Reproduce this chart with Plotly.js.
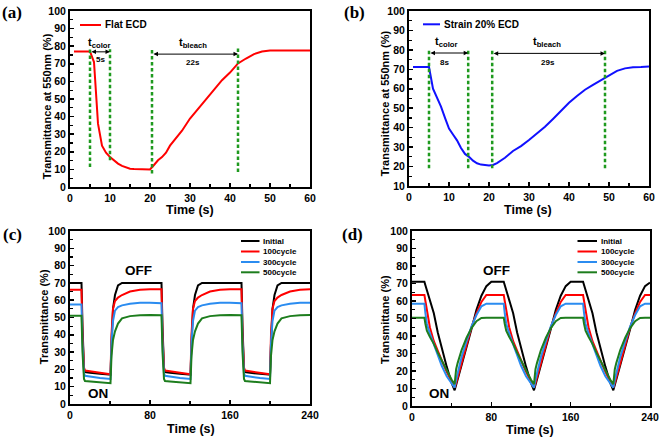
<!DOCTYPE html>
<html>
<head>
<meta charset="utf-8">
<script src="https://cdn.plot.ly/plotly-3.0.1.min.js"></script>
<style>
  html, body { margin: 0; padding: 0; background: #fff; }
  #graph { width: 660px; height: 438px; }
</style>
</head>
<body>
<div id="graph"></div>
<script>
// (a) flat device, single colour/bleach step
var aTime  = [1, 5, 6, 7, 8, 9, 10, 11, 12, 13, 14, 15, 16, 18, 20, 21, 22, 23, 24, 25, 26, 27, 28, 30, 32, 34, 36, 38, 40, 42, 44, 46, 48, 50, 55, 60];
var aTrans = [77, 77, 71, 36, 23.5, 19.5, 17, 15, 13.3, 12, 11, 10.4, 10.2, 10, 10, 12.5, 15.2, 17, 19.5, 23.5, 26.5, 29.4, 32, 38.9, 44.5, 50, 55.5, 60.7, 65, 70.2, 73, 75.5, 77, 77.5, 77.5, 77.5];
var aMarks = [5, 10, 20.5, 42];
var aMarkLow = [11.4, 15.2, 7.6, 8.5];
var aMarkTop = [78.2, 78.2, 78.2, 79.7];

// (b) 20% strained device
var bTime  = [1, 5, 6, 7, 8, 9, 10, 11, 12, 13, 14, 15, 16, 17, 18, 20, 21, 22, 24, 26, 28, 30, 32, 34, 36, 38, 40, 42, 44, 46, 48, 50, 52, 54, 56, 58, 60];
var bTrans = [71.2, 71.2, 60, 55.5, 50.8, 45, 39.5, 36.5, 33.5, 29.5, 26.5, 25, 23, 21.7, 21, 20.5, 20.8, 21.8, 24.5, 28, 30.5, 33.7, 37, 40.5, 44.5, 48.8, 52.8, 56.3, 59.5, 62, 64.5, 66.6, 69.2, 70.5, 71.1, 71.2, 71.4];
var bMarks = [5, 14.8, 20.8, 49];
var bMarkLow = [19.1, 19.1, 19.1, 19.1];
var bMarkTop = [79.9, 79.9, 79.9, 79.9];

// (c) cycling, flat device
var cycleNames = ["Initial", "100cycle", "300cycle", "500cycle"];
var cycleColors = ["#000000", "#ff0000", "#2b8cf0", "#1d7d1d"];
var cTime = [0, 11.5, 12.5, 14, 15, 20, 30, 40.5, 41.5, 43, 45, 48, 52, 60, 70, 80,
             91.5, 92.5, 94, 95, 100, 110, 120.5, 121.5, 123, 125, 128, 132, 140, 150, 160,
             171.5, 172.5, 174, 175, 180, 190, 200, 201, 202.5, 204.5, 207.5, 211.5, 220, 230, 240];
var cInitial = [70, 70, 45, 20, 18.5, 18, 17.5, 17, 35, 55, 63, 68.5, 70, 70, 70, 70,
                70, 45, 20, 18.5, 18, 17.5, 17, 35, 55, 63, 68.5, 70, 70, 70, 70,
                70, 45, 20, 18.5, 18, 17.5, 17, 35, 55, 63, 68.5, 70, 70, 70, 70];
var c100 = [66, 66, 40, 21, 19.3, 18.8, 18, 17.2, 40, 55, 59.5, 61.5, 63, 65, 66, 66.3,
            66.3, 40, 21, 19.3, 18.8, 18, 17.2, 40, 55, 59.5, 61.5, 63, 65, 66, 66.3,
            66.3, 40, 21, 19.3, 18.8, 18, 17.2, 40, 55, 59.5, 61.5, 63, 65, 66, 66.3];
var c300 = [57.5, 57.5, 35, 17.5, 16.3, 15.8, 15, 14.5, 35, 48, 54, 56, 57, 58, 58.5, 58.5,
            58.3, 35, 17.5, 16.3, 15.8, 15, 14.5, 35, 48, 54, 56, 57, 58, 58.5, 58.5,
            58.3, 35, 17.5, 16.3, 15.8, 15, 14.5, 35, 48, 54, 56, 57, 58, 58.5, 58.5];
var c500 = [51, 51, 30, 14.5, 13.3, 13, 12.5, 12, 28, 37, 42, 46.5, 49.5, 50.8, 51.3, 51.5,
            51.3, 30, 14.5, 13.3, 13, 12.5, 12, 28, 37, 42, 46.5, 49.5, 50.8, 51.3, 51.5,
            51.3, 30, 14.5, 13.3, 13, 12.5, 12, 28, 37, 42, 46.5, 49.5, 50.8, 51.3, 51.5];

// (d) cycling, strained device
var dTime = [0, 12.5, 13.5, 15, 18, 22, 26, 30, 35, 40, 43, 44.5, 46, 50, 55, 60, 65, 70, 75, 80,
             92.5, 93.5, 95, 98, 102, 106, 110, 115, 120, 123, 124.5, 126, 130, 135, 140, 145, 150, 155, 160,
             172.5, 173.5, 175, 178, 182, 186, 190, 195, 200, 203, 204.5, 206, 210, 215, 220, 225, 230, 235, 240];
var dInitial = [71, 71, 69, 66, 61, 53, 42, 33, 22.5, 13, 9, 12, 15, 24, 34, 44, 55, 63, 68.5, 71,
                71, 69, 66, 61, 53, 42, 33, 22.5, 13, 9, 12, 15, 24, 34, 44, 55, 63, 68.5, 71,
                71, 69, 66, 61, 53, 42, 33, 22.5, 13, 9, 12, 15, 24, 34, 44, 55, 63, 68.5, 70.5];
var d100 = [63.5, 63.5, 60, 55, 45, 37, 31, 26, 19.5, 13.5, 10.5, 13, 16, 25, 35, 45, 53, 59.5, 63.5, 63.5,
            63.5, 60, 55, 45, 37, 31, 26, 19.5, 13.5, 10.5, 13, 16, 25, 35, 45, 53, 59.5, 63.5, 63.5,
            63.5, 60, 55, 45, 37, 31, 26, 19.5, 13.5, 10.5, 13, 16, 25, 35, 45, 53, 59.5, 63.5, 63.5];
var d300 = [58.5, 58.5, 53, 47, 41.5, 35, 29, 23, 17, 12.5, 10.5, 15, 19, 28, 37, 45.5, 52, 57, 58.5, 58.5,
            58.5, 53, 47, 41.5, 35, 29, 23, 17, 12.5, 10.5, 15, 19, 28, 37, 45.5, 52, 57, 58.5, 58.5,
            58.5, 53, 47, 41.5, 35, 29, 23, 17, 12.5, 10.5, 15, 19, 28, 37, 45.5, 52, 57, 58.5, 58.5];
var d500 = [50.5, 50.5, 47, 43, 39.5, 35.5, 30.5, 26, 20.5, 15, 12.5, 21, 24.5, 32, 39, 44.5, 48.5, 50.3, 50.5, 50.5,
            50.5, 47, 43, 39.5, 35.5, 30.5, 26, 20.5, 15, 12.5, 21, 24.5, 32, 39, 44.5, 48.5, 50.3, 50.5, 50.5,
            50.5, 47, 43, 39.5, 35.5, 30.5, 26, 20.5, 15, 12.5, 21, 24.5, 32, 39, 44.5, 48.5, 50.3, 50.5, 50.5];

var W = 660, H = 438;
var FONT = "Liberation Sans, Arial, sans-serif";
function px(x) { return x / W; }
function py(y) { return 1 - y / H; }

function lineTrace(x, y, color, xa, ya) {
    return {
        x: x, y: y, mode: "lines", type: "scatter",
        line: { color: color, width: 2 },
        xaxis: xa, yaxis: ya, showlegend: false, hoverinfo: "skip"
    };
}

function axis(domain, range, dtick, minor, anchor) {
    return {
        domain: domain, range: range, dtick: dtick, tick0: 0,
        anchor: anchor,
        showgrid: false, zeroline: false,
        showline: true, linewidth: 2, linecolor: "#000", mirror: true,
        ticks: "inside", ticklen: 4, tickwidth: 1.5, tickcolor: "#000",
        minor: { dtick: minor, ticks: "inside", ticklen: 3, tickwidth: 1.2, tickcolor: "#000", showgrid: false },
        tickfont: { family: FONT, size: 10.5, color: "#000", weight: "bold" }
    };
}

var data = [];
data.push(lineTrace(aTime, aTrans, "#ff0000", "x", "y"));
data.push(lineTrace(bTime, bTrans, "#1010ff", "x2", "y2"));
var cSeries = [cInitial, c100, c300, c500];
var dSeries = [dInitial, d100, d300, d500];
for (var i = 0; i < 4; i++) data.push(lineTrace(cTime, cSeries[i], cycleColors[i], "x3", "y3"));
for (var i = 0; i < 4; i++) data.push(lineTrace(dTime, dSeries[i], cycleColors[i], "x4", "y4"));

var shapes = [];
var annotations = [];
var DASH = { color: "#1f9a1f", width: 2.5, dash: "3.5px,2.5px" };
function marks(xs, lo, hi, xr, yr) {
    for (var i = 0; i < xs.length; i++) {
        shapes.push({ type: "line", xref: xr, yref: yr, x0: xs[i], x1: xs[i], y0: lo[i], y1: hi[i], line: DASH });
    }
}
marks(aMarks, aMarkLow, aMarkTop, "x", "y");
marks(bMarks, bMarkLow, bMarkTop, "x2", "y2");

function span(x0, x1, y, xr, yr) {
    annotations.push({ x: x1, y: y, ax: x0, ay: y, xref: xr, yref: yr, axref: xr, ayref: yr,
        text: "", showarrow: true, arrowside: "end+start", arrowhead: 2, arrowsize: 0.9, arrowwidth: 1, arrowcolor: "#000" });
}
function label(text, x, y, xr, yr, size, weight, family, angle) {
    annotations.push({ x: x, y: y, xref: xr, yref: yr, text: text, showarrow: false, textangle: angle || 0,
        xanchor: "center", yanchor: "middle",
        font: { family: family || FONT, size: size, color: "#000", weight: weight || "bold" } });
}

// (a) timing annotations
span(aMarks[0], aMarks[1], 76.8, "x", "y");
span(aMarks[2], aMarks[3], 75.5, "x", "y");
label("t<sub>color</sub>", 7.2, 82, "x", "y", 11);
label("5s", 7.6, 72.5, "x", "y", 8);
label("t<sub>bleach</sub>", 30.7, 82, "x", "y", 11);
label("22s", 30.7, 70.8, "x", "y", 8);
// (b) timing annotations
span(bMarks[0], bMarks[1], 78.4, "x2", "y2");
span(bMarks[2], bMarks[3], 78.2, "x2", "y2");
label("t<sub>color</sub>", 9.3, 84, "x2", "y2", 11);
label("8s", 8.8, 73.6, "x2", "y2", 8);
label("t<sub>bleach</sub>", 34.4, 84, "x2", "y2", 11);
label("29s", 34.8, 73.6, "x2", "y2", 8);
// OFF / ON
label("OFF", 68, 77, "x3", "y3", 13.5);
label("ON", 27.7, 6, "x3", "y3", 13.5);
label("OFF", 85.6, 77.3, "x4", "y4", 13.5);
label("ON", 26.8, 7.3, "x4", "y4", 13.5);

// axis titles
label("Time (s)", px(190), py(209.5), "paper", "paper", 12.5);
label("Time (s)", px(528), py(209.5), "paper", "paper", 12.5);
label("Time (s)", px(191), py(429), "paper", "paper", 12.5);
label("Time (s)", px(530), py(430), "paper", "paper", 12.5);
label("Transmittance at 550nm (%)", px(46.5), py(106.7), "paper", "paper", 11, "bold", FONT, -90);
label("Transmittance at 550nm (%)", px(385), py(103.3), "paper", "paper", 11, "bold", FONT, -90);
label("Transmittance (%)", px(43.5), py(316.7), "paper", "paper", 11, "bold", FONT, -90);
label("Transmittane (%)", px(385), py(320), "paper", "paper", 11, "bold", FONT, -90);

// panel letters
var SERIF = "Liberation Serif, Times New Roman, serif";
label("(a)", px(12), py(13), "paper", "paper", 17, "bold", SERIF);
label("(b)", px(354), py(13), "paper", "paper", 17, "bold", SERIF);
label("(c)", px(12), py(234), "paper", "paper", 17, "bold", SERIF);
label("(d)", px(353), py(234), "paper", "paper", 17, "bold", SERIF);

// hand-placed legends (line key + text)
function legendItem(x0, x1, y, color, text, size) {
    shapes.push({ type: "line", xref: "paper", yref: "paper", x0: px(x0), x1: px(x1), y0: py(y), y1: py(y),
        line: { color: color, width: 2 } });
    annotations.push({ x: px(x1 + 1.5), y: py(y), xref: "paper", yref: "paper", xanchor: "left", yanchor: "middle",
        text: text, showarrow: false, font: { family: FONT, size: size, color: "#000", weight: "bold" } });
}
legendItem(80, 101, 25, "#ff0000", "Flat ECD", 10);
legendItem(423, 440, 24.3, "#1010ff", "Strain 20% ECD", 10);
var legY = [241, 251.5, 262, 272.3];
for (var i = 0; i < 4; i++) {
    legendItem(241, 259.5, legY[i], cycleColors[i], cycleNames[i], 8);
    legendItem(577.5, 597, legY[i], cycleColors[i], cycleNames[i], 8);
}

var layout = {
    width: W, height: H,
    margin: { l: 0, r: 0, t: 0, b: 0 },
    paper_bgcolor: "#fff", plot_bgcolor: "#fff",
    showlegend: false,
    xaxis:  axis([px(70), px(310)], [0, 60], 10, 5, "y"),
    yaxis:  axis([py(187), py(11)], [0, 100], 10, 5, "x"),
    xaxis2: axis([px(409), px(649)], [0, 60], 10, 5, "y2"),
    yaxis2: axis([py(186), py(11)], [10, 100], 10, 5, "x2"),
    xaxis3: axis([px(70), px(310)], [0, 240], 80, 40, "y3"),
    yaxis3: axis([py(404), py(231)], [0, 100], 10, 5, "x3"),
    xaxis4: axis([px(412), px(650)], [0, 240], 80, 40, "y4"),
    yaxis4: axis([py(406), py(231)], [0, 100], 10, 5, "x4"),
    shapes: shapes,
    annotations: annotations
};

Plotly.newPlot(document.getElementById("graph"), data, layout, { staticPlot: true });
</script>
</body>
</html>
